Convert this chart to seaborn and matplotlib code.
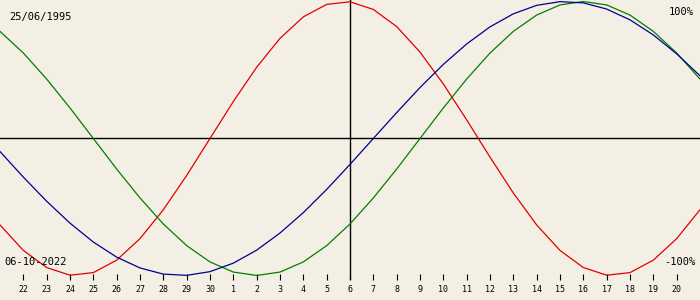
import matplotlib
matplotlib.use("Agg")
import matplotlib.pyplot as plt
import seaborn as sns
import pandas as pd

# day offsets around the target date (06-10-2022)
days = list(range(-15, 16))
physical = [-0.631, -0.817, -0.942, -0.998, -0.979, -0.888, -0.731, -0.520, -0.270, 0.0,
            0.270, 0.520, 0.731, 0.888, 0.979, 0.998, 0.942, 0.817, 0.631, 0.398,
            0.136, -0.136, -0.398, -0.631, -0.817, -0.942, -0.998, -0.979, -0.888, -0.731, -0.520]
emotional = [0.782, 0.624, 0.434, 0.223, 0.0, -0.223, -0.434, -0.624, -0.782, -0.901,
             -0.975, -1.0, -0.975, -0.901, -0.782, -0.624, -0.434, -0.223, 0.0, 0.223,
             0.434, 0.624, 0.782, 0.901, 0.975, 1.0, 0.975, 0.901, 0.782, 0.624, 0.434]
intellectual = [-0.095, -0.282, -0.458, -0.618, -0.756, -0.866, -0.945, -0.990, -0.999, -0.972,
                -0.910, -0.815, -0.690, -0.541, -0.372, -0.189, 0.0, 0.189, 0.372, 0.541,
                0.690, 0.815, 0.910, 0.972, 0.999, 0.990, 0.945, 0.866, 0.756, 0.618, 0.458]
tick_days = list(range(-14, 15))
tick_labels = ['22', '23', '24', '25', '26', '27', '28', '29', '30', '1', '2', '3', '4', '5',
               '6', '7', '8', '9', '10', '11', '12', '13', '14', '15', '16', '17', '18', '19', '20']
birth_text = '25/06/1995'
date_text = '06-10-2022'

df = pd.concat([
    pd.DataFrame({'day': days, 'value': physical, 'cycle': 'physical'}),
    pd.DataFrame({'day': days, 'value': emotional, 'cycle': 'emotional'}),
    pd.DataFrame({'day': days, 'value': intellectual, 'cycle': 'intellectual'}),
])

bg = '#f3efe4'
plt.rcParams['font.family'] = ['DejaVu Sans Mono']

fig = plt.figure(figsize=(7, 3), dpi=100)
fig.patch.set_facecolor(bg)
ax = fig.add_axes([0, 20 / 300, 1, 280 / 300])
ax.set_facecolor(bg)

sns.lineplot(data=df, x='day', y='value', hue='cycle',
             palette={'physical': '#e00000', 'emotional': '#008000', 'intellectual': '#000090'},
             linewidth=0.9, legend=False, ax=ax, sort=False)

ax.axhline(0, color='black', lw=1.0, zorder=1)
ax.axvline(0, color='black', lw=1.0, zorder=1)

ax.set_xlim(-15, 15)
ax.set_ylim(-1.033, 1.011)
ax.set_xticks(tick_days)
ax.set_xticklabels(tick_labels)
ax.set_yticks([])
ax.tick_params(axis='x', direction='in', length=4, width=0.8, pad=3.5,
               labelsize=6, colors='black')
for s in ax.spines.values():
    s.set_visible(False)
ax.set_xlabel('')
ax.set_ylabel('')

fs = 7.5
fig.text(9 / 700, 1 - 17 / 300, birth_text, ha='left', va='center', fontsize=fs)
fig.text(694 / 700, 1 - 12 / 300, '100%', ha='right', va='center', fontsize=fs)
fig.text(4 / 700, 1 - 262 / 300, date_text, ha='left', va='center', fontsize=fs)
fig.text(695 / 700, 1 - 262 / 300, '-100%', ha='right', va='center', fontsize=fs)

fig.savefig('out.png', dpi=100, facecolor=bg)
